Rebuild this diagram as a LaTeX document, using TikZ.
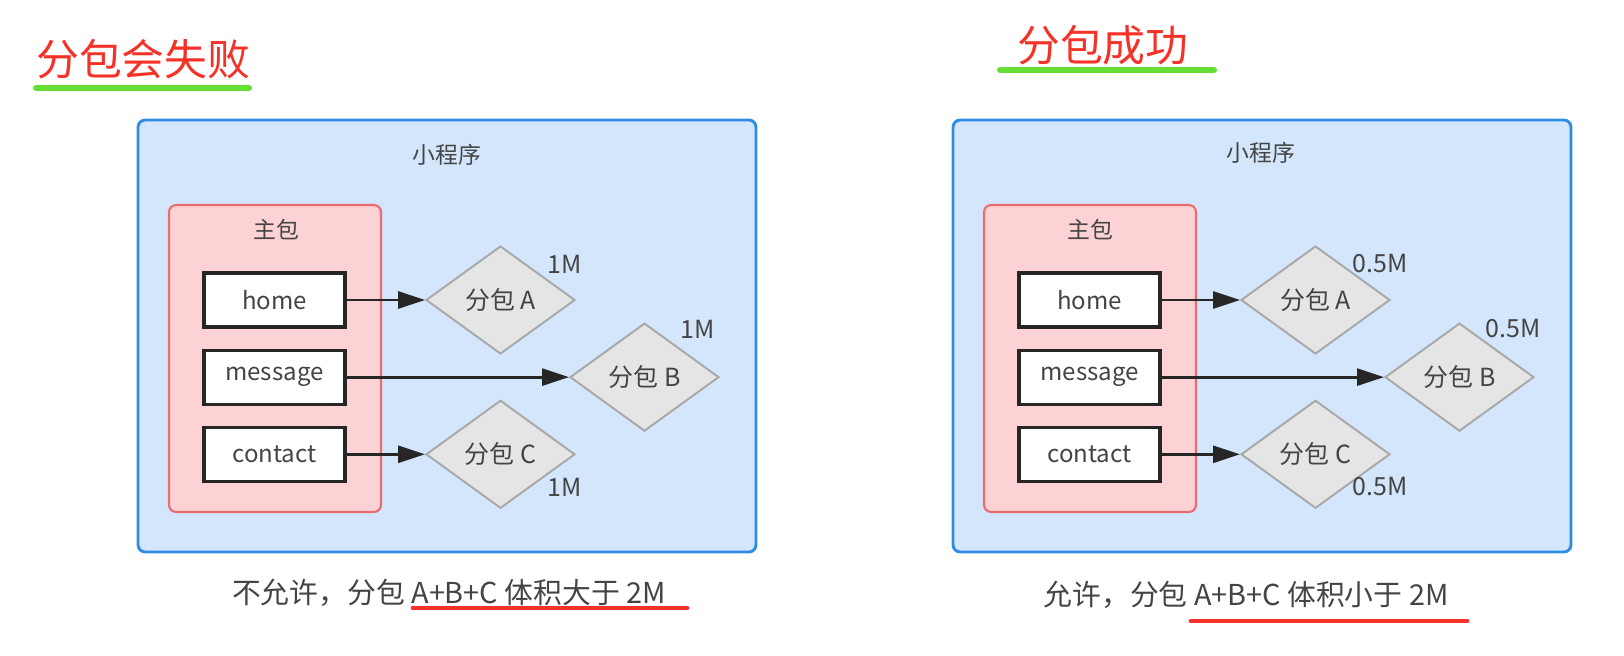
\documentclass[tikz,border=0pt]{standalone}
\usepackage{fontspec}
\setmainfont{Noto Sans CJK SC}
\usetikzlibrary{shapes.geometric, arrows.meta, positioning}

\definecolor{appblue}{RGB}{45,140,228}
\definecolor{appfill}{RGB}{212,230,251}
\definecolor{mainred}{RGB}{234,108,112}
\definecolor{mainfill}{RGB}{252,210,212}
\definecolor{subgray}{RGB}{168,168,168}
\definecolor{subfill}{RGB}{229,229,229}
\definecolor{titlered}{RGB}{245,50,40}
\definecolor{markgreen}{RGB}{102,222,52}
\definecolor{textgray}{RGB}{68,68,68}

\begin{document}
\begin{tikzpicture}[
    x=0.02cm, y=-0.02cm,
    font=\fontsize{13}{15}\selectfont,
    % Containers
    app/.style={rectangle, draw=appblue, fill=appfill, line width=1.6pt, rounded corners=4pt, minimum width=12.36cm, minimum height=8.64cm},
    mainpkg/.style={rectangle, draw=mainred, fill=mainfill, line width=1.2pt, rounded corners=4pt, minimum width=4.24cm, minimum height=6.14cm},
    % Pages and sub packages
    page/.style={rectangle, draw=black!85, fill=white, line width=1.8pt, minimum width=2.82cm, minimum height=1.08cm, text=textgray, font=\fontsize{13.7}{16}\selectfont},
    subpkg/.style={diamond, draw=subgray, fill=subfill, line width=1.1pt, minimum width=2.98cm, minimum height=2.16cm, inner sep=0pt, text=textgray, font=\fontsize{14.2}{16}\selectfont},
    size/.style={text=textgray, font=\fontsize{14.2}{16}\selectfont},
    % Texts
    heading/.style={anchor=west, text=titlered, font=\fontsize{24.4}{28}\selectfont},
    caption/.style={text=textgray, font=\fontsize{16.4}{19}\selectfont},
    % Connectors
    line/.style={line width=1.6pt, draw=black!85, -{Triangle[length=0.54cm, width=0.34cm]}},
    greenmark/.style={line width=3.4pt, draw=markgreen, line cap=round},
    redmark/.style={line width=2.8pt, draw=titlered, line cap=round},
]
\useasboundingbox (0,0) rectangle (1624,656);

% 1. Left: splitting fails
\node[heading] (ltitle) at (30,59) {分包会失败};
\draw[greenmark] (36,88) -- (249,88);

\node[app] (lapp) at (447,336) {};
\node[text=textgray] (lapplbl) at (447,155) {小程序};
\node[mainpkg] (lmain) at (275,358.5) {};
\node[text=textgray] (lmainlbl) at (276,230) {主包};

\node[page] (lhome) at (274.5,300) {home};
\node[page, below=0.4cm of lhome] (lmsg) {message};
\node[page, below=0.4cm of lmsg] (lcontact) {contact};

\node[subpkg, right=1.57cm of lhome] (lsubA) {分包 A};
\node[subpkg, right=4.45cm of lmsg] (lsubB) {分包 B};
\node[subpkg, right=1.57cm of lcontact] (lsubC) {分包 C};

\node[size] (lsizeA) at (565,264) {1M};
\node[size] (lsizeB) at (698,329) {1M};
\node[size] (lsizeC) at (565,487) {1M};

\draw[line] (lhome) -- (lsubA);
\draw[line] (lmsg) -- (lsubB);
\draw[line] (lcontact) -- (lsubC);

\node[caption] (lcap) at (449,593) {不允许，分包 A+B+C 体积大于 2M};
\draw[redmark] (413,608) -- (687,608);

% 2. Right: splitting succeeds
\node[heading] (rtitle) at (1011,45) {分包成功};
\draw[greenmark] (1000,70) -- (1214,70);

\node[app] (rapp) at (1262,336) {};
\node[text=textgray] (rapplbl) at (1261,153) {小程序};
\node[mainpkg] (rmain) at (1090,358.5) {};
\node[text=textgray] (rmainlbl) at (1090,230) {主包};

\node[page] (rhome) at (1089.5,300) {home};
\node[page, below=0.4cm of rhome] (rmsg) {message};
\node[page, below=0.4cm of rmsg] (rcontact) {contact};

\node[subpkg, right=1.57cm of rhome] (rsubA) {分包 A};
\node[subpkg, right=4.45cm of rmsg] (rsubB) {分包 B};
\node[subpkg, right=1.57cm of rcontact] (rsubC) {分包 C};

\node[size] (rsizeA) at (1380,264) {0.5M};
\node[size] (rsizeB) at (1513,329) {0.5M};
\node[size] (rsizeC) at (1380,487) {0.5M};

\draw[line] (rhome) -- (rsubA);
\draw[line] (rmsg) -- (rsubB);
\draw[line] (rcontact) -- (rsubC);

\node[caption] (rcap) at (1246,595) {允许，分包 A+B+C 体积小于 2M};
\draw[redmark] (1191,621) -- (1467,621);

\end{tikzpicture}
\end{document}
